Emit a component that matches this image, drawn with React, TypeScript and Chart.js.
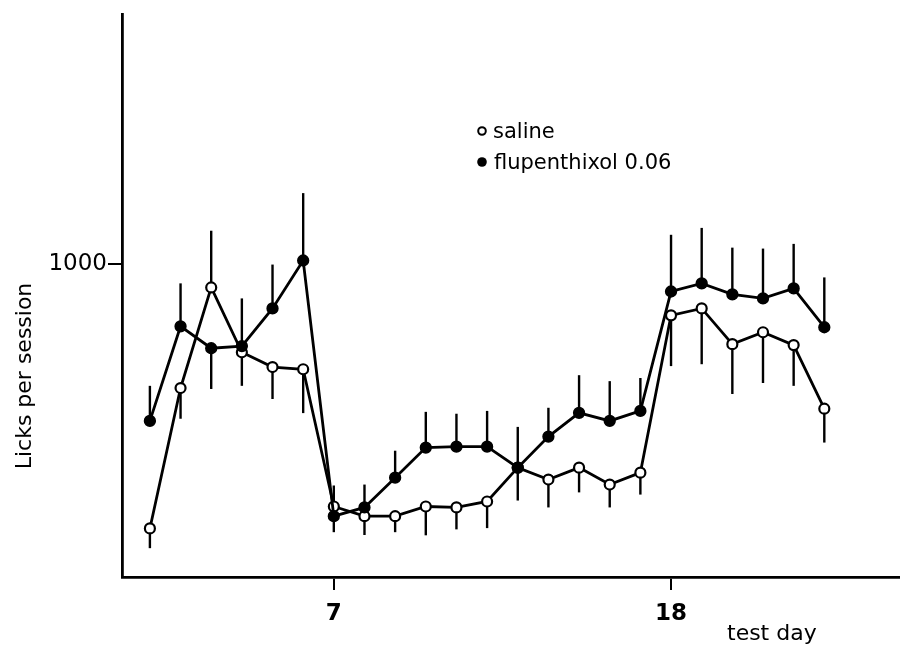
import React, { useEffect, useRef } from 'react';
import { Chart, registerables } from 'chart.js';

Chart.register(...registerables);

// ---- data ----
const testDays = [1, 2, 3, 4, 5, 6, 7, 8, 9, 10, 11, 12, 13, 14, 15, 16, 17, 18, 19, 20, 21, 22, 23];
const salineLicks = [155, 603, 924, 717, 670, 663, 225, 194, 194, 225, 222, 241, 349, 311, 349, 295, 333, 835, 857, 743, 781, 740, 537];
const salineErr = [63, 98, 181, 107, 102, 140, 67, 60, 51, 92, 70, 85, 105, 89, 79, 73, 70, 162, 178, 159, 162, 130, 108];
const salineErrDir = [-1, -1, 1, -1, -1, -1, 1, -1, -1, -1, -1, -1, -1, -1, -1, -1, -1, -1, -1, -1, -1, -1, -1];
const fluLicks = [498, 800, 730, 737, 857, 1010, 194, 222, 317, 413, 416, 416, 349, 448, 524, 498, 530, 911, 937, 902, 889, 921, 797];
const fluErr = [112, 137, 130, 152, 140, 215, 51, 73, 86, 114, 105, 114, 130, 92, 120, 127, 105, 181, 177, 149, 159, 142, 159];
const fluErrDir = [1, 1, -1, 1, 1, 1, -1, 1, 1, 1, 1, 1, 1, 1, 1, 1, 1, 1, 1, 1, 1, 1, 1];
const seriesLabels = ['saline', 'flupenthixol 0.06'];
const xTickValues = [7, 18];
const yTickValues = [1000];
const xAxisTitle = 'test day';
const yAxisTitle = 'Licks per session';

const FONT = '"DejaVu Sans", "Liberation Sans", sans-serif';

export default function App() {
  const ref = useRef<HTMLCanvasElement | null>(null);

  useEffect(() => {
    const canvas = ref.current;
    if (!canvas) return;

    const errorInfo = [
      { err: salineErr, dir: salineErrDir },
      { err: fluErr, dir: fluErrDir },
    ];

    const errorBars = {
      id: 'errorBars',
      beforeDatasetsDraw(chart: any) {
        const { ctx } = chart;
        const xs = chart.scales.x;
        const ys = chart.scales.y;
        ctx.save();
        ctx.strokeStyle = '#000';
        ctx.lineWidth = 2.4;
        chart.data.datasets.forEach((ds: any, di: number) => {
          const info = errorInfo[di];
          ds.data.forEach((p: any, i: number) => {
            const px = xs.getPixelForValue(p.x);
            const py = ys.getPixelForValue(p.y);
            const pe = ys.getPixelForValue(p.y + info.dir[i] * info.err[i]);
            ctx.beginPath();
            ctx.moveTo(px, py);
            ctx.lineTo(px, pe);
            ctx.stroke();
          });
        });
        ctx.restore();
      },
    };

    const annotations = {
      id: 'annotations',
      afterDraw(chart: any) {
        const { ctx } = chart;
        ctx.save();
        ctx.fillStyle = '#000';
        ctx.strokeStyle = '#000';
        // legend
        ctx.font = `21px ${FONT}`;
        ctx.textBaseline = 'alphabetic';
        ctx.textAlign = 'left';
        ctx.lineWidth = 2;
        ctx.beginPath();
        ctx.arc(482, 131, 3.8, 0, Math.PI * 2);
        ctx.fillStyle = '#fff';
        ctx.fill();
        ctx.stroke();
        ctx.fillStyle = '#000';
        ctx.fillText(seriesLabels[0], 493, 138);
        ctx.beginPath();
        ctx.arc(482, 162, 4.8, 0, Math.PI * 2);
        ctx.fill();
        ctx.fillText(seriesLabels[1], 494, 169);
        // x title
        ctx.font = `22px ${FONT}`;
        ctx.fillText(xAxisTitle, 727, 640);
        // y title
        ctx.translate(31, 376);
        ctx.rotate(-Math.PI / 2);
        ctx.textAlign = 'center';
        ctx.font = `22px ${FONT}`;
        ctx.fillText(yAxisTitle, 0, 0);
        ctx.restore();
      },
    };

    const chart = new Chart(canvas, {
      type: 'line',
      data: {
        datasets: [
          {
            label: seriesLabels[0],
            data: testDays.map((d, i) => ({ x: d, y: salineLicks[i] })),
            borderColor: '#000',
            borderWidth: 2.8,
            pointRadius: 5,
            pointBackgroundColor: '#fff',
            pointBorderColor: '#000',
            pointBorderWidth: 2.2,
            tension: 0,
            order: 1,
          },
          {
            label: seriesLabels[1],
            data: testDays.map((d, i) => ({ x: d, y: fluLicks[i] })),
            borderColor: '#000',
            borderWidth: 2.8,
            pointRadius: 5.4,
            pointBackgroundColor: '#000',
            pointBorderColor: '#000',
            pointBorderWidth: 1.5,
            tension: 0,
            order: 0,
          },
        ],
      },
      options: {
        animation: false,
        responsive: false,
        devicePixelRatio: 1,
        events: [],
        layout: { padding: { left: 0, right: 5, top: 12, bottom: 0 } },
        plugins: {
          legend: { display: false },
          tooltip: { enabled: false },
        },
        scales: {
          x: {
            type: 'linear',
            min: 0.09,
            max: 25.43,
            afterBuildTicks: (axis: any) => {
              axis.ticks = xTickValues.map((v) => ({ value: v }));
            },
            afterFit: (axis: any) => {
              axis.height = 69;
            },
            grid: {
              drawOnChartArea: false,
              drawTicks: true,
              tickLength: 13,
              color: '#000',
              lineWidth: 2,
            },
            border: { display: true, color: '#000', width: 2.8 },
            ticks: {
              autoSkip: false,
              maxRotation: 0,
              color: '#000',
              padding: 10,
              font: { family: FONT, size: 23, weight: 'bold' },
              callback: (v: any) => String(v),
            },
          },
          y: {
            type: 'linear',
            min: 0,
            max: 1794,
            afterBuildTicks: (axis: any) => {
              axis.ticks = yTickValues.map((v) => ({ value: v }));
            },
            afterFit: (axis: any) => {
              axis.width = 122;
            },
            grid: {
              drawOnChartArea: false,
              drawTicks: true,
              tickLength: 14,
              color: '#000',
              lineWidth: 2,
            },
            border: { display: true, color: '#000', width: 2.8 },
            ticks: {
              autoSkip: false,
              color: '#000',
              padding: 1,
              font: { family: FONT, size: 23 },
              callback: (v: any) => String(v),
            },
          },
        },
      },
      plugins: [errorBars, annotations],
    } as any);

    return () => {
      chart.destroy();
    };
  }, []);

  return (
    <div style={{ position: 'absolute', left: 0, top: 0, width: 906, height: 646, background: '#fff' }}>
      <canvas ref={ref} width={906} height={646} style={{ display: 'block', width: 906, height: 646 }} />
    </div>
  );
}
